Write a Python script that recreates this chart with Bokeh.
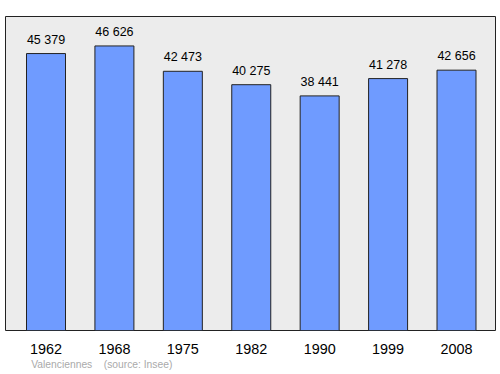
from bokeh.plotting import figure
from bokeh.models import Range1d, FixedTicker, ColumnDataSource, Title
from bokeh.core.properties import value
from bokeh.embed import file_html
from bokeh.resources import INLINE

years = ["1962", "1968", "1975", "1982", "1990", "1999", "2008"]
population = [45379, 46626, 42473, 40275, 38441, 41278, 42656]
value_labels = ["45 379", "46 626", "42 473", "40 275", "38 441", "41 278", "42 656"]
footer_text = "Valenciennes\u00a0\u00a0\u00a0\u00a0(source: Insee)"

idx = list(range(len(years)))
src = ColumnDataSource(dict(x=idx, top=population, lab=value_labels))

p = figure(width=497, height=372, output_backend="svg", toolbar_location=None,
           x_range=Range1d(-0.592, 6.570), y_range=Range1d(0, 51450),
           y_axis_location=None, min_border_left=5, min_border_right=2,
           min_border_top=16, min_border_bottom=42)
p.background_fill_color = "#ececec"
p.border_fill_color = "white"
p.outline_line_color = "#222222"
p.outline_line_width = 1
p.xgrid.visible = False
p.ygrid.visible = False

p.vbar(x="x", top="top", width=0.57, bottom=0, source=src,
       fill_color="#6f9bff", line_color="#222222", line_width=1)
p.text(x="x", y="top", text="lab", source=src, y_offset=-14,
       text_align="center", text_baseline="alphabetic",
       text_font=value("Liberation Sans"), text_font_size="12.5px", text_color="#000000")

ax = p.xaxis[0]
ax.ticker = FixedTicker(ticks=idx)
ax.major_label_overrides = {i: y for i, y in zip(idx, years)}
ax.axis_line_color = None
ax.major_tick_line_color = None
ax.minor_tick_line_color = None
ax.major_tick_out = 0
ax.major_label_standoff = 13
ax.major_label_text_font = "Liberation Sans"
ax.major_label_text_font_size = "14.4px"
ax.major_label_text_color = "#000000"

p.add_layout(Title(text=footer_text, align="left", offset=25.7, standoff=1,
                   text_font="Liberation Sans", text_font_size="10.3px",
                   text_font_style="normal", text_color="#aaaaaa"), "below")

open("out.html", "w").write(file_html(p, INLINE))
